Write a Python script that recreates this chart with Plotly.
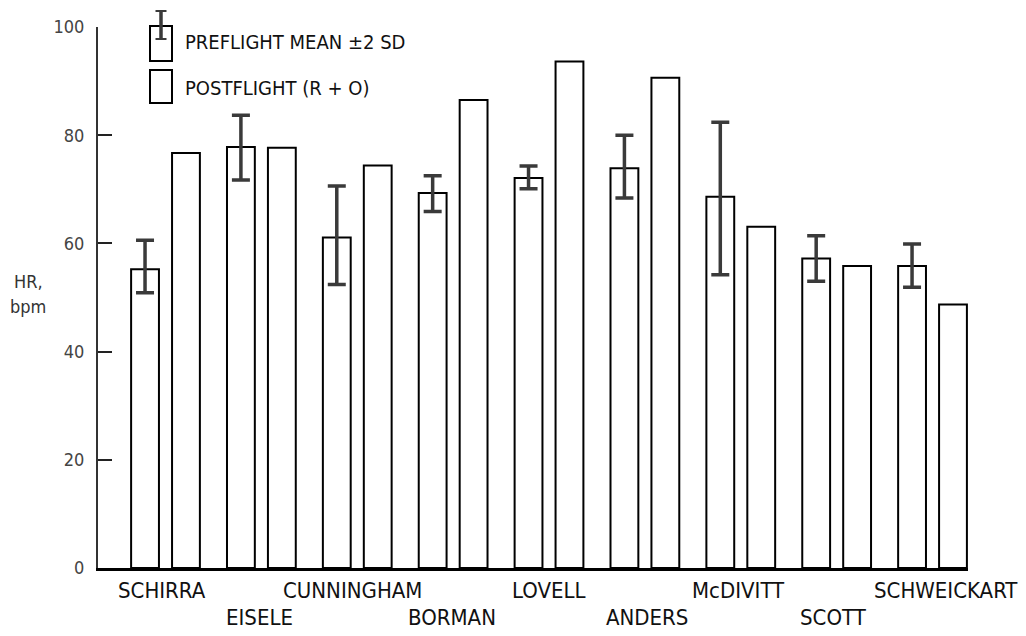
import plotly.graph_objects as go

# ---- data ----
astronauts = ["SCHIRRA", "EISELE", "CUNNINGHAM", "BORMAN", "LOVELL",
              "ANDERS", "McDIVITT", "SCOTT", "SCHWEICKART"]
preflight_mean = [55.2, 77.8, 61.1, 69.3, 72.1, 73.9, 68.6, 57.2, 55.8]
preflight_upper = [60.6, 83.7, 70.6, 72.5, 74.3, 80.0, 82.4, 61.4, 59.9]   # mean + 2 SD
preflight_lower = [50.9, 71.7, 52.4, 65.9, 70.1, 68.4, 54.2, 53.0, 51.9]   # mean - 2 SD
postflight = [76.7, 77.7, 74.4, 86.5, 93.6, 90.6, 63.1, 55.8, 48.7]
y_ticks = [0, 20, 40, 60, 80, 100]

# ---- layout constants ----
W, H = 1026, 636
ML, MR, MT, MB = 98, 58, 27, 68
PW, PH = W - ML - MR, H - MT - MB
FONT = "Liberation Sans Narrow, DejaVu Sans Condensed, Arial Narrow, sans-serif"
label_row = [0, 1, 0, 1, 0, 1, 0, 1, 0]
label_xshift = [-4, -2, -5, -1, 0, 2, -2, -3, 13]


def px(x):
    return (x - ML) / PW


def py(y):
    return (H - MB - y) / PH


xs = list(range(len(astronauts)))
err_plus = [u - m for u, m in zip(preflight_upper, preflight_mean)]
err_minus = [m - l for m, l in zip(preflight_mean, preflight_lower)]

fig = go.Figure()
fig.add_trace(go.Bar(
    x=xs, y=preflight_mean, name="PREFLIGHT MEAN ±2 SD",
    marker=dict(color="white", line=dict(color="black", width=2)),
    error_y=dict(type="data", symmetric=False, array=err_plus, arrayminus=err_minus,
                 color="#3a3a3a", thickness=3.5, width=9),
))
fig.add_trace(go.Bar(
    x=xs, y=postflight, name="POSTFLIGHT (R + O)",
    marker=dict(color="white", line=dict(color="black", width=2)),
))

annotations = []
for i, name in enumerate(astronauts):
    yrow = 590 if label_row[i] == 0 else 617
    annotations.append(dict(
        x=xs[i], xref="x", y=py(yrow), yref="paper", text=name, showarrow=False,
        xanchor="center", yanchor="middle", xshift=label_xshift[i],
        font=dict(family=FONT, size=22, color="#111"),
    ))

# y-axis title
annotations.append(dict(x=px(28), y=py(281), xref="paper", yref="paper", text="HR,",
                        showarrow=False, xanchor="center", yanchor="middle",
                        font=dict(family=FONT, size=18, color="#333")))
annotations.append(dict(x=px(28), y=py(306), xref="paper", yref="paper", text="bpm",
                        showarrow=False, xanchor="center", yanchor="middle",
                        font=dict(family=FONT, size=18, color="#333")))

# legend text
annotations.append(dict(x=px(183), y=py(42), xref="paper", yref="paper",
                        text="PREFLIGHT MEAN ±2 SD", showarrow=False,
                        xanchor="left", yanchor="middle",
                        font=dict(family=FONT, size=20, color="#111")))
annotations.append(dict(x=px(183), y=py(88), xref="paper", yref="paper",
                        text="POSTFLIGHT (R + O)", showarrow=False,
                        xanchor="left", yanchor="middle",
                        font=dict(family=FONT, size=20, color="#111")))

shapes = [
    dict(type="rect", xref="paper", yref="paper", x0=px(150), x1=px(172), y0=py(61), y1=py(26),
         line=dict(color="black", width=2), fillcolor="white"),
    dict(type="line", xref="paper", yref="paper", x0=px(161), x1=px(161), y0=py(39), y1=py(11),
         line=dict(color="#3a3a3a", width=3.5)),
    dict(type="line", xref="paper", yref="paper", x0=px(155.5), x1=px(166.5), y0=py(11), y1=py(11),
         line=dict(color="#3a3a3a", width=2)),
    dict(type="line", xref="paper", yref="paper", x0=px(155.5), x1=px(166.5), y0=py(39), y1=py(39),
         line=dict(color="#3a3a3a", width=2)),
    dict(type="rect", xref="paper", yref="paper", x0=px(150), x1=px(172), y0=py(103), y1=py(70),
         line=dict(color="black", width=2), fillcolor="white"),
]

fig.update_layout(
    width=W, height=H,
    margin=dict(l=ML, r=MR, t=MT, b=MB),
    paper_bgcolor="white", plot_bgcolor="white",
    barmode="group", bargap=0.146, bargroupgap=0.32,
    showlegend=False,
    annotations=annotations, shapes=shapes,
    xaxis=dict(range=[-0.704, 8.37], showticklabels=False, ticks="", showgrid=False,
               zeroline=False, showline=True, linecolor="black", linewidth=2.5),
    yaxis=dict(range=[0, 100], tickvals=y_ticks, ticks="inside", ticklen=14, tickwidth=2,
               tickcolor="#222", showgrid=False, zeroline=False, showline=True,
               linecolor="#333", linewidth=2, ticklabelstandoff=8,
               tickfont=dict(family=FONT, size=18, color="#444")),
)

fig.write_html("out.html")
